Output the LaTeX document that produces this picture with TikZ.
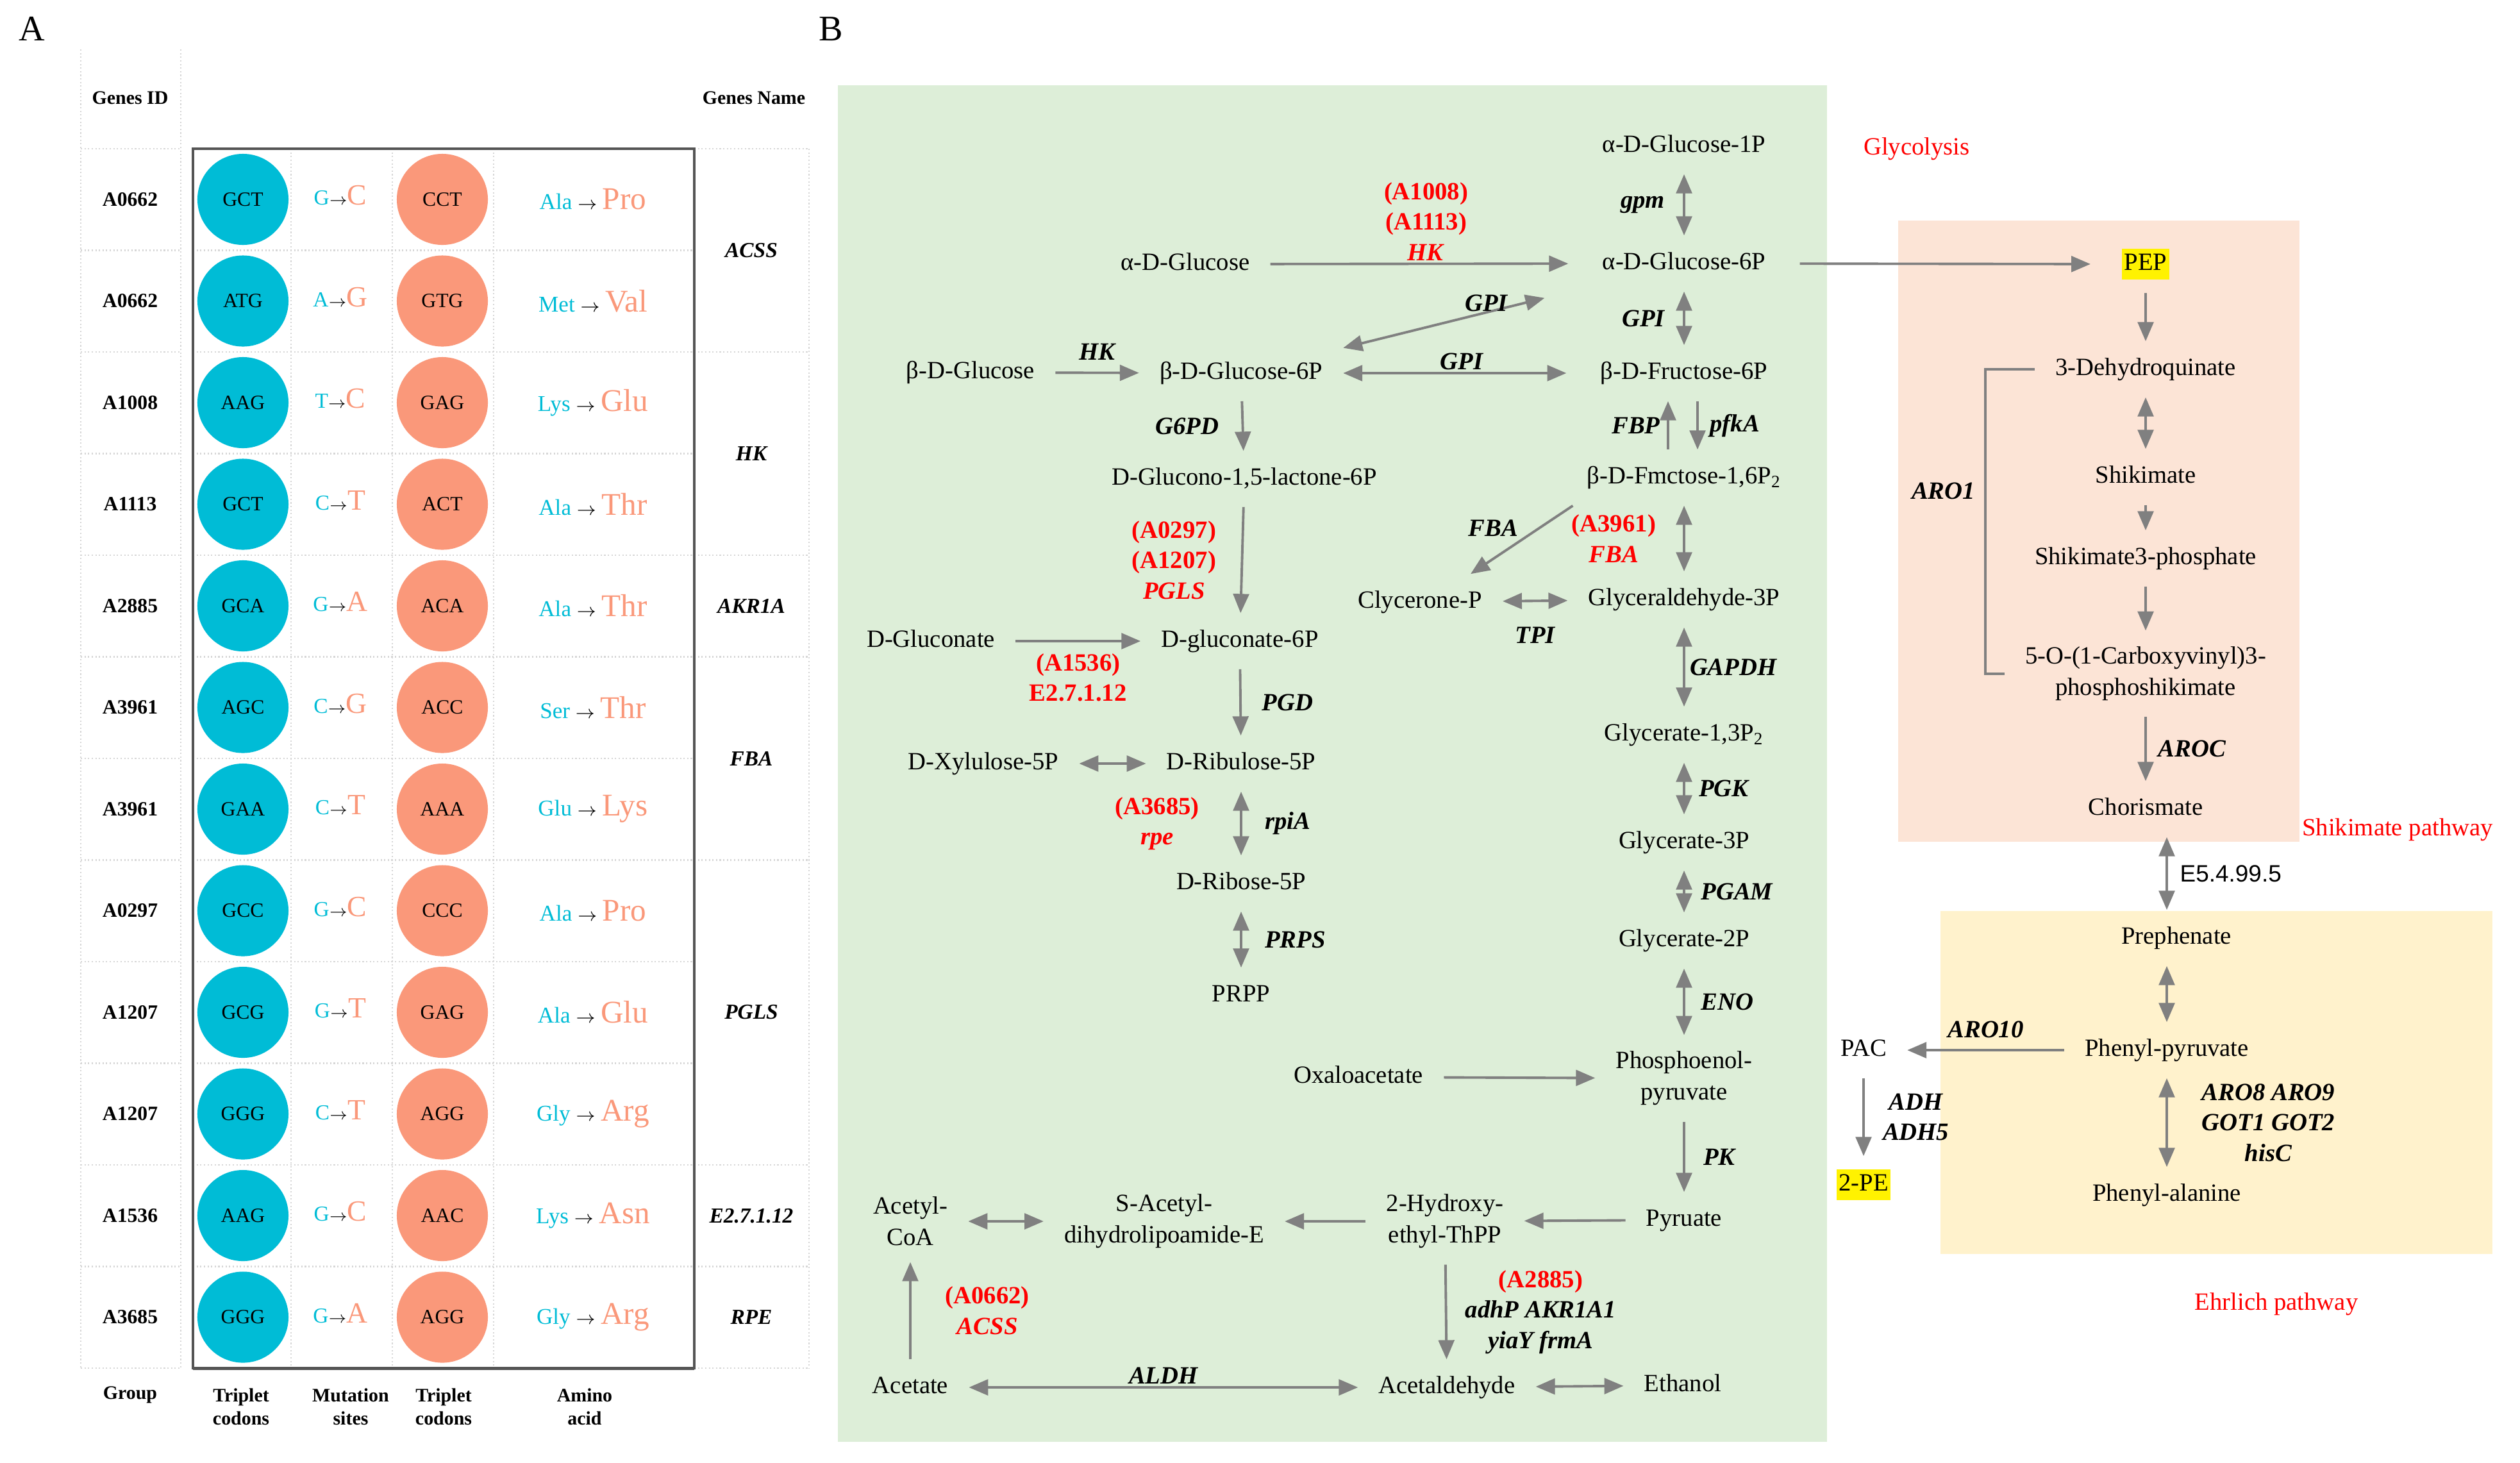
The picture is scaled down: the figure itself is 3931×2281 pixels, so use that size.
\documentclass[tikz,border=0pt]{standalone}
\usepackage{fontspec}
\setmainfont{Liberation Serif}
\setsansfont{Liberation Sans}
\usepackage{xcolor}
\usepackage{tikz}
\usetikzlibrary{positioning, arrows.meta}

\definecolor{codonblue}{HTML}{00BCD6}
\definecolor{codonred}{HTML}{FA987A}
\definecolor{glygreen}{HTML}{DDEED8}
\definecolor{shikpink}{HTML}{FCE4D6}
\definecolor{ehryellow}{HTML}{FFF2CC}
\definecolor{flowgray}{HTML}{808080}
\definecolor{tablegray}{HTML}{D6D6D6}
\definecolor{boxgray}{HTML}{555555}

\begin{document}
\begin{tikzpicture}[x=0.01cm, y=-0.01cm,
    panel/.style={font=\fontsize{16}{18}\selectfont},
    head/.style={font=\fontsize{8.5}{10.2}\selectfont\bfseries, align=center},
    geneid/.style={font=\fontsize{9}{10}\selectfont\bfseries},
    gname/.style={font=\fontsize{9.5}{11}\selectfont\bfseries\itshape},
    codonA/.style={circle, fill=codonblue, minimum size=1.42cm, inner sep=0pt, font=\fontsize{9}{10}\selectfont},
    codonB/.style={codonA, fill=codonred},
    tabline/.style={draw=tablegray, densely dotted, line width=0.6pt},
    met/.style={inner xsep=9pt, inner ysep=7pt, text height=8pt, text depth=2.5pt, font=\fontsize{11}{14}\selectfont},
    met2/.style={inner xsep=9pt, inner ysep=7pt, align=center, font=\fontsize{11}{14}\selectfont},
    hl/.style={met, fill=yellow, inner xsep=1pt, inner ysep=1.5pt, outer sep=6pt},
    enz/.style={font=\fontsize{11}{13.5}\selectfont\bfseries\itshape, inner sep=2pt, align=center},
    mut/.style={font=\fontsize{11}{13.5}\selectfont\bfseries, text=red, inner sep=2pt, align=center},
    tag/.style={font=\fontsize{11}{13}\selectfont, text=red},
    fwd/.style={-{Triangle[length=8.5pt, width=7pt]}, draw=flowgray, line width=1.1pt},
    rev/.style={{Triangle[length=8.5pt, width=7pt]}-{Triangle[length=8.5pt, width=7pt]}, draw=flowgray, line width=1.1pt},
    flowline/.style={draw=flowgray, line width=1.1pt}
]
\useasboundingbox (0,0) rectangle (3931,2281);

% panel A: mutation table
\node[panel] (pa) at (50,45) {A};
\node[head] (hid) at (203,153) {Genes ID};
\node[head] (hname) at (1176,153) {Genes Name};

\draw[tabline] (126,77) -- (126,2134) (282,77) -- (282,2134) (1262,232) -- (1262,2134);
\draw[tabline] (454,232) -- (454,2134) (612,232) -- (612,2134) (770,232) -- (770,2134);
\foreach \k in {0,...,12}
  \draw[tabline] (126,{232+158.5*\k}) -- (282,{232+158.5*\k});
\foreach \k in {1,...,11}
  \draw[tabline] (301,{232+158.5*\k}) -- (1083,{232+158.5*\k});
\foreach \k in {0,2,4,5,7,10,11,12}
  \draw[tabline] (1083,{232+158.5*\k}) -- (1262,{232+158.5*\k});
\draw[boxgray, line width=0.9pt] (301,232) rectangle (1083,2134);
\draw[boxgray, line width=1.4pt] (301,232) -- (1083,232) (301,2134) -- (1083,2134);

\foreach \gid/\cdA/\mtA/\mtB/\cdB/\amA/\amB [count=\r from 0] in {
    A0662/GCT/G/C/CCT/Ala/Pro, A0662/ATG/A/G/GTG/Met/Val,
    A1008/AAG/T/C/GAG/Lys/Glu, A1113/GCT/C/T/ACT/Ala/Thr,
    A2885/GCA/G/A/ACA/Ala/Thr, A3961/AGC/C/G/ACC/Ser/Thr,
    A3961/GAA/C/T/AAA/Glu/Lys, A0297/GCC/G/C/CCC/Ala/Pro,
    A1207/GCG/G/T/GAG/Ala/Glu, A1207/GGG/C/T/AGG/Gly/Arg,
    A1536/AAG/G/C/AAC/Lys/Asn, A3685/GGG/G/A/AGG/Gly/Arg}{
  \pgfmathsetmacro{\ry}{311+158.5*\r}
  \node[geneid] (id\r) at (203,\ry) {\gid};
  \node[codonA] (ca\r) at (379,\ry) {\cdA};
  \node (mt\r) at (531,\ry-6) {\textcolor{codonblue}{\fontsize{9.5}{10}\selectfont\mtA}{\fontsize{7}{8}\selectfont$\rightarrow$}\textcolor{codonred}{\fontsize{13}{14}\selectfont\mtB}};
  \node[codonB] (cb\r) at (690,\ry) {\cdB};
  \node (am\r) at (925,\ry) {\textcolor{codonblue}{\fontsize{10}{11}\selectfont\amA}\ {\fontsize{8}{9}\selectfont$\rightarrow$}\ \textcolor{codonred}{\fontsize{14}{15}\selectfont\amB}};
}

\foreach \gn/\gy [count=\n] in {ACSS/390.5, HK/707.5, AKR1A/945.75, FBA/1183,
    PGLS/1579, E2.7.1.12/1896.25, RPE/2054.75}
  \node[gname] (gn\n) at (1172,\gy) {\gn};

\node[head] (fgrp) at (203,2176) {Group};
\node[head] (fca) at (376,2194) {Triplet\\codons};
\node[head] (fms) at (547,2194) {Mutation\\sites};
\node[head] (fcb) at (692,2194) {Triplet\\codons};
\node[head] (fam) at (912,2194) {Amino\\acid};

% panel B: pathways
\node[panel] (pb) at (1296,45) {B};
\fill[glygreen] (1307,133) rectangle (2850,2249);
\fill[shikpink] (2961,344) rectangle (3587,1313);
\fill[ehryellow] (3027,1421) rectangle (3888,1956);

\node[tag] (tglyc) at (2990,232) {Glycolysis};
\node[tag] (tshik) at (3740,1294) {Shikimate pathway};
\node[tag] (tehr) at (3551,2034) {Ehrlich pathway};

\node[met] (ag1p) at (2627,228) {α-D-Glucose-1P};
\node[met] (aglc) at (1849,412) {α-D-Glucose};
\node[met] (ag6p) at (2627,411) {α-D-Glucose-6P};
\node[met] (bglc) at (1514,581) {β-D-Glucose};
\node[met] (bg6p) at (1936,582) {β-D-Glucose-6P};
\node[met] (bf6p) at (2627,582) {β-D-Fructose-6P};
\node[met] (gl15) at (1941,747) {D-Glucono-1,5-lactone-6P};
\node[met] (bf16) at (2627,745) {β-D-Fmctose-1,6P\textsubscript{2}};
\node[met] (glyp) at (2215,939) {Clycerone-P};
\node[met] (gap) at (2627,935) {Glyceraldehyde-3P};
\node[met] (dglc) at (1452,1000) {D-Gluconate};
\node[met] (dg6p) at (1934,1000) {D-gluconate-6P};
\node[met] (xu5p) at (1534,1191) {D-Xylulose-5P};
\node[met] (ru5p) at (1936,1191) {D-Ribulose-5P};
\node[met] (bpg) at (2627,1146) {Glycerate-1,3P\textsubscript{2}};
\node[met] (g3p) at (2627,1314) {Glycerate-3P};
\node[met] (r5p) at (1936,1378) {D-Ribose-5P};
\node[met] (g2p) at (2627,1467) {Glycerate-2P};
\node[met] (prpp) at (1936,1553) {PRPP};
\node[met] (oaa) at (2119,1680) {Oxaloacetate};
\node[met2] (pep) at (2627,1682) {Phosphoenol-\\pyruvate};
\node[met] (pyr) at (2627,1903) {Pyruate};
\node[met2] (hthpp) at (2254,1905) {2-Hydroxy-\\ethyl-ThPP};
\node[met2] (sacd) at (1816,1905) {S-Acetyl-\\dihydrolipoamide-E};
\node[met2] (acoa) at (1420,1905) {Acetyl-\\CoA};
\node[met] (acet) at (1420,2164) {Acetate};
\node[met] (acald) at (2257,2164) {Acetaldehyde};
\node[met] (etoh) at (2625,2161) {Ethanol};

\node[hl] (pepy) at (3347,412) {PEP};
\node[met] (dhq) at (3347,576) {3-Dehydroquinate};
\node[met] (shik) at (3347,744) {Shikimate};
\node[met] (s3p) at (3347,871) {Shikimate3-phosphate};
\node[met2] (cbv) at (3347,1051) {5-O-(1-Carboxyvinyl)3-\\phosphoshikimate};
\node[met] (chor) at (3347,1262) {Chorismate};
\node[met] (preph) at (3395,1463) {Prephenate};
\node[met] (phpyr) at (3380,1638) {Phenyl-pyruvate};
\node[met] (pac) at (2907,1638) {PAC};
\node[hl] (tpe) at (2907,1848) {2-PE};
\node[met] (phala) at (3380,1864) {Phenyl-alanine};

\draw[rev] (ag1p) -- node[enz, left=6pt] {gpm} (ag6p);
\draw[fwd, shorten >=6pt] (aglc) -- node[mut, above, inner sep=1pt] {(A1008)\\(A1113)\\\textit{HK}} (ag6p);
\draw[rev, shorten >=17pt] (bg6p) -- node[enz, above, inner sep=0pt, pos=0.6] {GPI} (ag6p);
\draw[rev] (ag6p) -- node[enz, left=6pt] {GPI} (bf6p);
\draw[fwd] (bglc) -- node[enz, above=3pt] {HK} (bg6p);
\draw[rev, shorten >=6pt] (bg6p) -- node[enz, above, inner sep=1pt] {GPI} (bf6p);
\draw[fwd] (bg6p) -- node[enz, left=8pt] {G6PD} (gl15);
\draw[fwd] ([xshift=-0.25cm]bf16.north) -- node[enz, left=1pt] {FBP} ([xshift=-0.25cm]bf6p.south);
\draw[fwd] ([xshift=0.21cm]bf6p.south) -- node[enz, right=3pt] {pfkA} ([xshift=0.21cm]bf16.north);
\draw[fwd] ([xshift=0.1cm]bf16.south west) -- node[enz, above left, inner sep=1pt] {FBA} ([xshift=-0.5cm]glyp.north east);
\draw[rev] (bf16) -- node[mut, left=10pt] {(A3961)\\\textit{FBA}} (gap);
\draw[rev] (glyp) -- node[enz, below=9pt] {TPI} (gap);
\draw[rev] (gap) -- node[enz, right] {GAPDH} (bpg);
\draw[rev] (bpg) -- node[enz, right=4pt] {PGK} (g3p);
\draw[rev] (g3p) -- node[enz, right=5pt] {PGAM} (g2p);
\draw[rev] (g2p) -- node[enz, right=5pt] {ENO} (pep);
\draw[fwd] (oaa) -- (pep);
\draw[fwd] (pep) -- node[enz, right=6pt] {PK} (pyr);
\draw[fwd] (pyr) -- (hthpp);
\draw[fwd] (hthpp) -- (sacd);
\draw[rev] (acoa) -- (sacd);
\draw[fwd] (acet) -- node[mut, right=13pt] {(A0662)\\\textit{ACSS}} (acoa);
\draw[rev] (acet) -- node[enz, above, inner sep=1pt] {ALDH} (acald);
\draw[fwd] (hthpp) -- node[mut, right=6pt] {(A2885)\\\textcolor{black}{\textit{adhP AKR1A1}}\\\textcolor{black}{\textit{yiaY frmA}}} (acald);
\draw[rev] (acald) -- (etoh);

\draw[fwd] (gl15) -- node[mut, left=9pt] {(A0297)\\(A1207)\\\textit{PGLS}} (dg6p);
\draw[fwd] (dglc) -- node[mut, below=4pt, inner sep=1pt] {(A1536)\\E2.7.1.12} (dg6p);
\draw[fwd] (dg6p) -- node[enz, right=7pt] {PGD} (ru5p);
\draw[rev] (xu5p) -- (ru5p);
\draw[rev] (ru5p) -- node[enz, right=8pt] {rpiA} node[mut, left=16pt] {(A3685)\\\textit{rpe}} (r5p);
\draw[rev] (r5p) -- node[enz, right=8pt] {PRPS} (prpp);

\draw[fwd, shorten <=6pt, shorten >=8pt] (ag6p) -- (pepy);
\draw[fwd] (pepy) -- (dhq);
\draw[rev] (dhq) -- (shik);
\draw[fwd] (shik) -- (s3p);
\draw[fwd] (s3p) -- (cbv);
\draw[fwd] (cbv) -- node[enz, right=3pt] {AROC} (chor);
\draw[flowline] (dhq.west) -- ++(-77,0) |- node[enz, left=2pt, pos=0.2] {ARO1} (cbv.west);
\draw[rev] (chor.south -| phpyr) -- node[right=2pt, font=\fontsize{10.5}{12}\sffamily] {E5.4.99.5} (preph.north -| phpyr);
\draw[rev] (preph.south -| phpyr) -- (phpyr);
\draw[fwd] (phpyr) -- node[enz, above=3pt] {ARO10} (pac);
\draw[fwd] (pac) -- node[enz, right=6pt] {ADH\\ADH5} (tpe);
\draw[rev] (phpyr) -- node[enz, right=13pt] {ARO8 ARO9\\GOT1 GOT2\\hisC} (phala);

\end{tikzpicture}
\end{document}
